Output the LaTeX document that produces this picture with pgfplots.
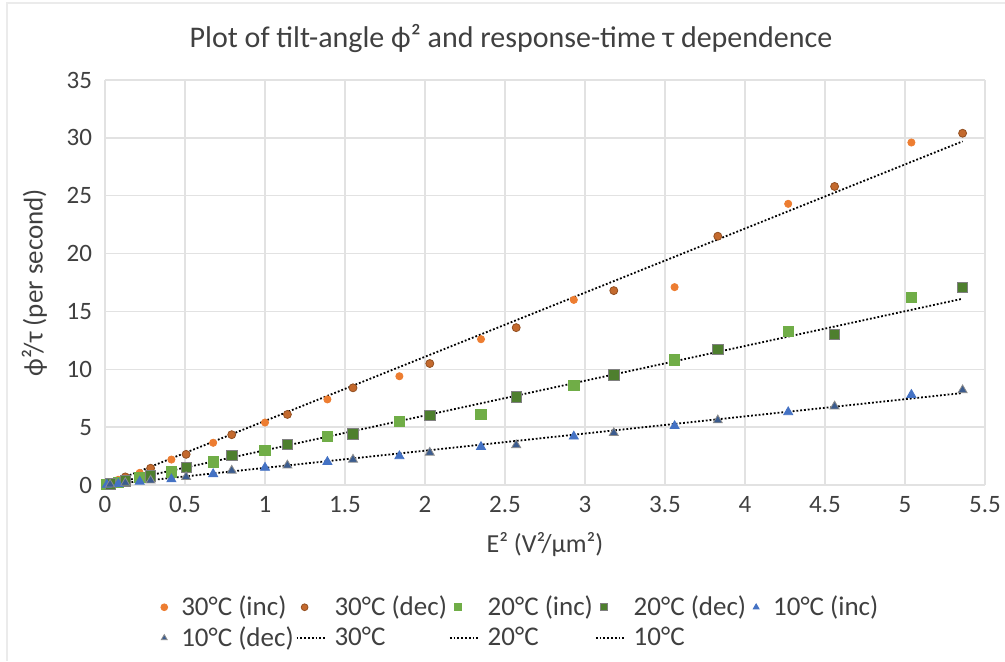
\documentclass[border=0pt]{standalone}
\usepackage{pgfplots}
\pgfplotsset{compat=1.18}
\usepackage{fontspec}
\setmainfont{Carlito}
\definecolor{oinc}{HTML}{ED7D31}
\definecolor{odec}{HTML}{C46A2E}
\definecolor{ginc}{HTML}{70AD47}
\definecolor{gdec}{HTML}{4E7F2E}
\definecolor{binc}{HTML}{4472C4}
\definecolor{bdec}{HTML}{3B5C8F}
\definecolor{gridc}{HTML}{E2E2E2}
\definecolor{txt}{HTML}{404040}
\pgfplotsset{
  trendleg/.style={legend image code/.code={\draw[##1] (0pt,0pt) -- (14pt,0pt);}},
  markleg/.style={legend image code/.code={\path[draw=none,fill=none] (0pt,-1pt) rectangle (8pt,1pt);\draw[##1, only marks, mark size=1.7pt] plot coordinates {(4pt,0pt)};}},
}
\begin{document}
\begin{tikzpicture}
\useasboundingbox (-52.5pt,-88pt) rectangle (450pt,242.5pt);
\draw[black!8, line width=1pt] (-49pt,-88pt) -- (-49pt,241pt) -- (450pt,241pt);
\begin{axis}[
  at={(0,0)}, anchor=south west,
  width=440pt, height=202.5pt, scale only axis,
  xmin=0, xmax=5.5, ymin=0, ymax=35,
  xtick={0,0.5,1,1.5,2,2.5,3,3.5,4,4.5,5,5.5},
  ytick={0,5,10,15,20,25,30,35},
  grid=major, major grid style={gridc, line width=0.7pt},
  separate axis lines,
  axis x line*=bottom, axis y line*=left,
  y axis line style={draw=none},
  x axis line style={draw=gridc, line width=0.8pt},
  tick style={draw=none},
  /pgf/number format/assume math mode=true,
  ticklabel style={font=\fontsize{12.5}{14}\selectfont, text=txt},
  yticklabel style={xshift=-3pt},
  xticklabel style={yshift=-2pt},
  title={Plot of tilt-angle ϕ² and response-time τ dependence},
  title style={font=\fontsize{15}{17}\selectfont, text=txt, yshift=4pt, xshift=-17pt},
  xlabel={E² (V²/µm²)},
  xlabel style={font=\fontsize{13}{15}\selectfont, text=txt, yshift=-3pt},
  ylabel={ϕ²/τ (per second)},
  ylabel style={font=\fontsize{13.5}{15}\selectfont, text=txt, yshift=3pt},
  legend columns=5,
  legend cell align=left,
  legend style={at={(0.051,-0.253)}, anchor=north west, draw=none,
    font=\fontsize{13.5}{15}\selectfont, text=txt,
    nodes={inner xsep=1pt},
    /tikz/every odd column/.append style={column sep=3.5pt},
    /tikz/every even column/.append style={column sep=0pt},
    row sep=0pt},
]
% 30C inc
\addplot[only marks, mark=*, mark size=1.8pt, draw=oinc, fill=oinc, markleg] coordinates {
(0.012,0.06) (0.083,0.45) (0.217,1.05) (0.415,2.2) (0.676,3.65) (1.0,5.4) (1.39,7.4) (1.84,9.4) (2.35,12.6) (2.93,16.0) (3.56,17.1) (4.27,24.3) (5.04,29.6)};
\addlegendentry{30°C (inc)}
% 30C dec
\addplot[only marks, mark=*, mark size=2pt, draw=odec!75!black, fill=odec, markleg] coordinates {
(0.032,0.15) (0.127,0.7) (0.285,1.45) (0.507,2.65) (0.792,4.35) (1.14,6.1) (1.55,8.4) (2.03,10.5) (2.57,13.6) (3.18,16.8) (3.83,21.5) (4.56,25.8) (5.36,30.4)};
\addlegendentry{30°C (dec)}
% 20C inc
\addplot[only marks, mark=square*, mark size=2.6pt, draw=ginc, fill=ginc, markleg] coordinates {
(0.012,0.05) (0.083,0.25) (0.217,0.65) (0.415,1.15) (0.676,2.0) (1.0,3.0) (1.39,4.2) (1.84,5.5) (2.35,6.1) (2.93,8.6) (3.56,10.8) (4.27,13.3) (5.04,16.2)};
\addlegendentry{20°C (inc)}
% 20C dec
\addplot[only marks, mark=square*, mark size=2.6pt, draw=black!50, fill=gdec, markleg] coordinates {
(0.032,0.1) (0.127,0.35) (0.285,0.8) (0.507,1.5) (0.792,2.55) (1.14,3.5) (1.55,4.4) (2.03,6.0) (2.57,7.6) (3.18,9.5) (3.83,11.7) (4.56,13.0) (5.36,17.1)};
\addlegendentry{20°C (dec)}
% 10C inc
\addplot[only marks, mark=triangle*, mark size=2.6pt, draw=binc, fill=binc, markleg] coordinates {
(0.012,0.03) (0.083,0.1) (0.217,0.3) (0.415,0.5) (0.676,0.95) (1.0,1.5) (1.39,2.0) (1.84,2.5) (2.35,3.3) (2.93,4.2) (3.56,5.1) (4.27,6.3) (5.04,7.8)};
\addlegendentry{10°C (inc)}
% 10C dec
\addplot[only marks, mark=triangle*, mark size=2.6pt, draw=black!45, fill=bdec, markleg] coordinates {
(0.032,0.05) (0.127,0.2) (0.285,0.4) (0.507,0.7) (0.792,1.25) (1.14,1.7) (1.55,2.2) (2.03,2.8) (2.57,3.45) (3.18,4.5) (3.83,5.6) (4.56,6.8) (5.36,8.2)};
\addlegendentry{10°C (dec)}
% trend lines
\addplot[black, densely dotted, line width=0.9pt, trendleg] coordinates {(0,0) (5.36,29.7)};
\addlegendentry{30°C}
\addplot[black, densely dotted, line width=0.9pt, trendleg] coordinates {(0,0) (5.36,16.1)};
\addlegendentry{20°C}
\addplot[black, densely dotted, line width=0.9pt, trendleg] coordinates {(0,0) (5.36,7.95)};
\addlegendentry{10°C}
\end{axis}
\end{tikzpicture}
\end{document}
